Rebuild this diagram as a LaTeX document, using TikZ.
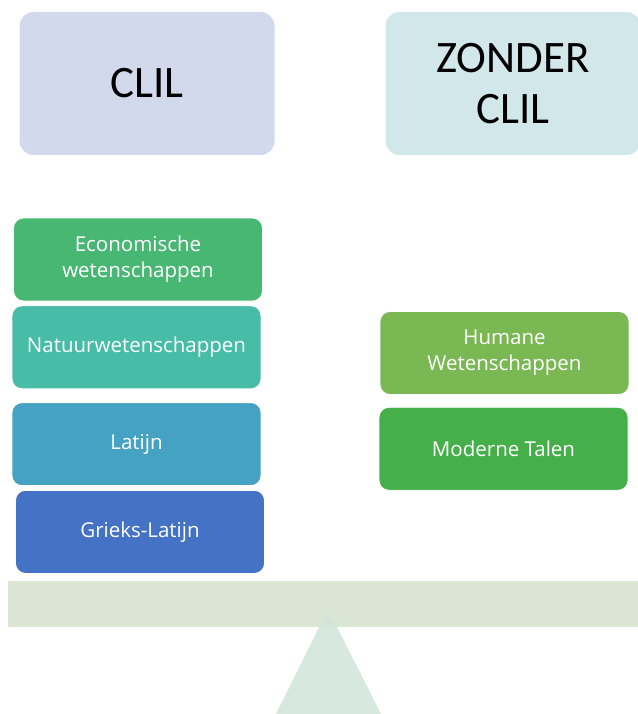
\documentclass[tikz,border=0pt]{standalone}
\usepackage{fontspec}
\setmainfont{Carlito}
\newfontfamily\vakfont{Open Sans}
\usetikzlibrary{positioning}

\definecolor{clilhead}{HTML}{D3D9EC}
\definecolor{zonderhead}{HTML}{D2E7EA}
\definecolor{ecogreen}{HTML}{48B774}
\definecolor{natteal}{HTML}{47BDA8}
\definecolor{latblue}{HTML}{45A2C3}
\definecolor{griekblue}{HTML}{4472C4}
\definecolor{humgreen}{HTML}{7AB853}
\definecolor{modgreen}{HTML}{45B04A}
\definecolor{beamgreen}{HTML}{DAE5D3}
\definecolor{pivotgreen}{HTML}{D3E6DA}

\begin{document}
\begin{tikzpicture} [x=1pt, y=-1pt,
            node distance = 4pt,
            head/.style = {rectangle, rounded corners=14pt, inner sep=0pt,
                minimum width=255pt, minimum height=143pt, align=center,
                font=\fontsize{45}{51}\selectfont},
            vak/.style = {rectangle, rounded corners=10pt, inner sep=0pt,
                draw=white, line width=0.8pt, text=white, align=center,
                minimum width=249pt, minimum height=83pt,
                font=\vakfont\fontsize{20.5}{26}\selectfont}]
            \useasboundingbox (0,0) rectangle (637,714);

            % Headings
            \node (clil) [head, fill=clilhead] at (147,83.5) {CLIL};
            \node (zonder) [head, fill=zonderhead] at (513,83.5) {ZONDER\\CLIL};

            % Left column
            \node (eco) [vak, fill=ecogreen] at (138,259.5)
                {Economische\\wetenschappen};
            \node (nat) [vak, fill=natteal,
                below = of eco, xshift=-1.5pt] {Natuurwetenschappen};
            \node (lat) [vak, fill=latblue,
                below = 13pt of nat] {Latijn};
            \node (griek) [vak, fill=griekblue,
                below = of lat, xshift=3.5pt] {Grieks-Latijn};

            % Right column
            \node (hum) [vak, fill=humgreen] at (504.5,353)
                {Humane\\Wetenschappen};
            \node (mod) [vak, fill=modgreen,
                below = 12pt of hum, xshift=-1pt] {Moderne Talen};

            % Seesaw
            \node (beam) [rectangle, fill=beamgreen, inner sep=0pt,
                minimum width=640pt, minimum height=46pt] at (328,604) {};
            \fill [pivotgreen, opacity=0.9] (328,609) -- (381,714) -- (276,714) -- cycle;
        \end{tikzpicture}
\end{document}
